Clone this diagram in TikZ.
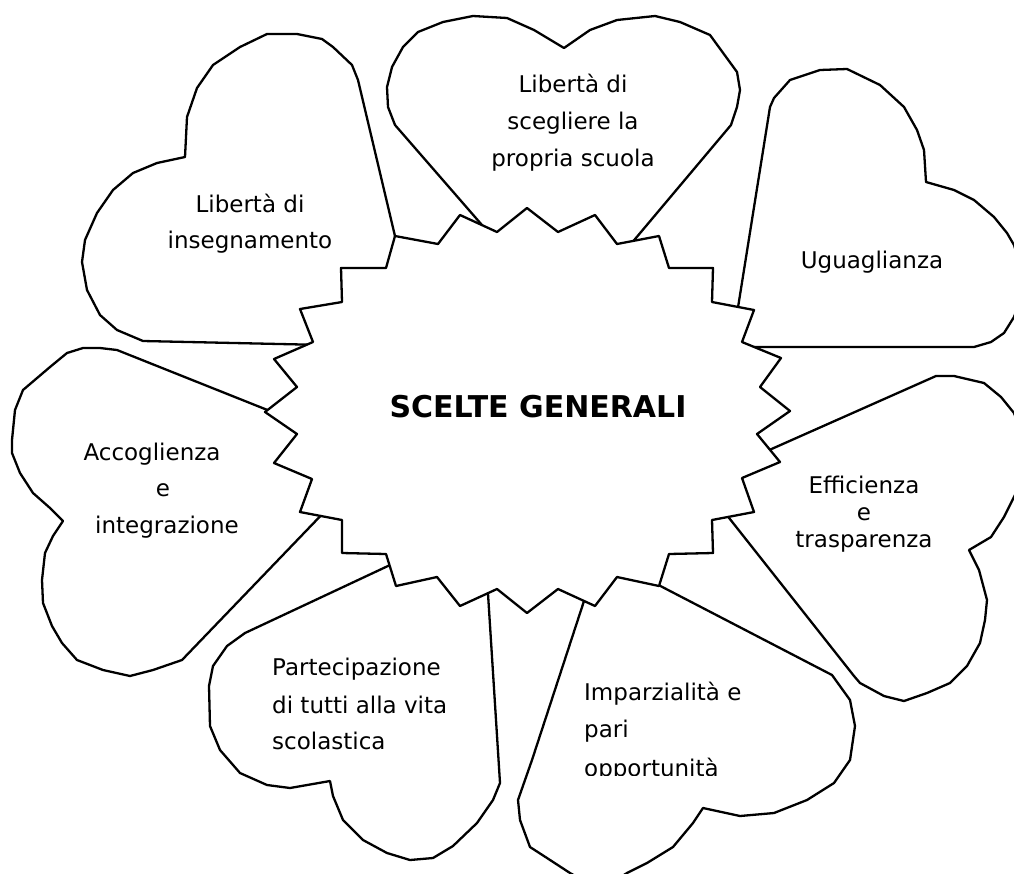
\documentclass[tikz,border=0pt]{standalone}
\usepackage{fontspec}
\setmainfont{DejaVu Sans}
\begin{document}
\begin{tikzpicture}[x=1pt,y=-1pt,
  heartline/.style={draw=black, fill=white, line width=2.3pt, line join=round},
  txt/.style={font=\fontsize{23}{28}\selectfont, inner sep=0pt},
  bigtxt/.style={font=\fontsize{30}{34}\selectfont\bfseries, inner sep=0pt}]
\useasboundingbox (0,0) rectangle (1014,873);
\clip (0,0) rectangle (1014,873);
\fill[white] (0,0) rectangle (1014,873);
\coordinate (c) at (527,410);
% Heart A: Liberta di insegnamento
\draw[heartline] (c) -- (399,253) -- (358,80) -- (352,65) -- (333,47) -- (322,39) -- (297,34) -- (267,34) -- (240,47) -- (213,65) -- (197,88) -- (187,117) -- (185,157) -- (157,163) -- (133,173) -- (113,190) -- (97,213) -- (85,240) -- (82,262) -- (87,290) -- (100,315) -- (117,330) -- (143,341) -- (325,345) -- cycle;
% Heart B: Liberta di scegliere
\draw[heartline] (c) -- (495,240) -- (395,125) -- (388,107) -- (387,87) -- (392,67) -- (403,47) -- (418,32) -- (443,22) -- (473,16) -- (507,18) -- (534,30) -- (564,48) -- (590,30) -- (617,20) -- (655,16) -- (680,22) -- (710,35) -- (737,72) -- (740,90) -- (737,107) -- (731,125) -- (625,251) -- cycle;
% Heart C: Uguaglianza
\draw[heartline] (c) -- (736,320) -- (770,107) -- (774,98) -- (790,80) -- (820,70) -- (847,69) -- (880,85) -- (904,107) -- (917,130) -- (924,150) -- (926,182) -- (954,190) -- (974,200) -- (994,217) -- (1007,233) -- (1014,245) -- (1020,265) -- (1022,295) -- (1014,317) -- (1004,333) -- (991,342) -- (974,347) -- (735,347) -- cycle;
% Heart D: Efficienza
\draw[heartline] (c) -- (758,455) -- (936,376) -- (954,376) -- (984,383) -- (1001,397) -- (1014,413) -- (1024,440) -- (1024,475) -- (1014,497) -- (1004,517) -- (991,537) -- (969,550) -- (979,570) -- (987,600) -- (985,620) -- (980,643) -- (967,666) -- (950,683) -- (927,693) -- (904,701) -- (884,696) -- (860,683) -- (854,676) -- (722,509) -- cycle;
% Heart E: Imparzialita
\draw[heartline] (c) -- (589,585) -- (584,601) -- (532,760) -- (518,800) -- (520,820) -- (530,847) -- (547,858) -- (570,873) -- (600,890) -- (627,873) -- (647,863) -- (673,847) -- (693,823) -- (703,808) -- (740,816) -- (774,813) -- (807,800) -- (834,783) -- (850,760) -- (855,726) -- (850,700) -- (832,675) -- (645,578) -- cycle;
% Heart F: Partecipazione
\draw[heartline] (c) -- (405,558) -- (245,633) -- (227,646) -- (213,666) -- (209,686) -- (210,726) -- (220,750) -- (240,773) -- (267,785) -- (290,788) -- (330,781) -- (333,796) -- (343,820) -- (363,840) -- (387,853) -- (410,860) -- (433,858) -- (453,846) -- (477,823) -- (493,800) -- (500,783) -- (487,578) -- cycle;
% Heart G: Accoglienza
\draw[heartline] (c) -- (285,417) -- (117,350) -- (100,348) -- (83,348) -- (67,353) -- (50,367) -- (23,390) -- (15,410) -- (12,440) -- (12,453) -- (20,473) -- (33,493) -- (50,508) -- (63,521) -- (53,536) -- (45,553) -- (42,580) -- (43,603) -- (52,626) -- (62,643) -- (77,660) -- (103,670) -- (130,676) -- (153,670) -- (182,660) -- (330,506) -- cycle;
% Central star
\draw[heartline] (297,434) -- (265,412) -- (297,387) -- (274,359) -- (313,342) -- (300,309) -- (342,302) -- (341,268) -- (386,268) -- (395,236) -- (438,244) -- (460,215) -- (497,232) -- (527,208) -- (558,232) -- (595,215) -- (617,244) -- (659,236) -- (669,268) -- (713,268) -- (712,302) -- (754,310) -- (742,342) -- (781,358) -- (760,387) -- (790,411) -- (757,434) -- (780,462) -- (742,478) -- (754,512) -- (712,520) -- (713,553) -- (669,554) -- (659,586) -- (617,577) -- (595,606) -- (558,589) -- (527,613) -- (497,589) -- (460,606) -- (437,577) -- (396,586) -- (386,554) -- (342,553) -- (342,520) -- (300,512) -- (312,479) -- (274,463) -- cycle;
% Texts
\node[bigtxt, anchor=base] (title) at (538,417) {SCELTE GENERALI};
\node[txt, anchor=base] (a1) at (250,212) {Libertà di};
\node[txt, anchor=base] (a2) at (250,248) {insegnamento};
\node[txt, anchor=base] (b1) at (573,92) {Libertà di};
\node[txt, anchor=base] (b2) at (573,129) {scegliere la};
\node[txt, anchor=base] (b3) at (573,166) {propria scuola};
\node[txt, anchor=base] (c1) at (872,268) {Uguaglianza};
\node[txt, anchor=base] (d1) at (864,493) {Efficienza};
\node[txt, anchor=base] (d2) at (864,520) {e};
\node[txt, anchor=base] (d3) at (864,547) {trasparenza};
\node[txt, anchor=base west] (e1) at (584,700) {Imparzialità e};
\node[txt, anchor=base west] (e2) at (584,737) {pari};
\begin{scope}
\clip (500,740) rectangle (900,775);
\node[txt, anchor=base west] (e3) at (584,776) {opportunità};
\end{scope}
\node[txt, anchor=base west] (f1) at (272,675) {Partecipazione};
\node[txt, anchor=base west] (f2) at (272,713) {di tutti alla vita};
\node[txt, anchor=base west] (f3) at (272,749) {scolastica};
\node[txt, anchor=base] (g1) at (152,460) {Accoglienza};
\node[txt, anchor=base] (g2) at (163,496) {e};
\node[txt, anchor=base] (g3) at (167,533) {integrazione};
\end{tikzpicture}
\end{document}
